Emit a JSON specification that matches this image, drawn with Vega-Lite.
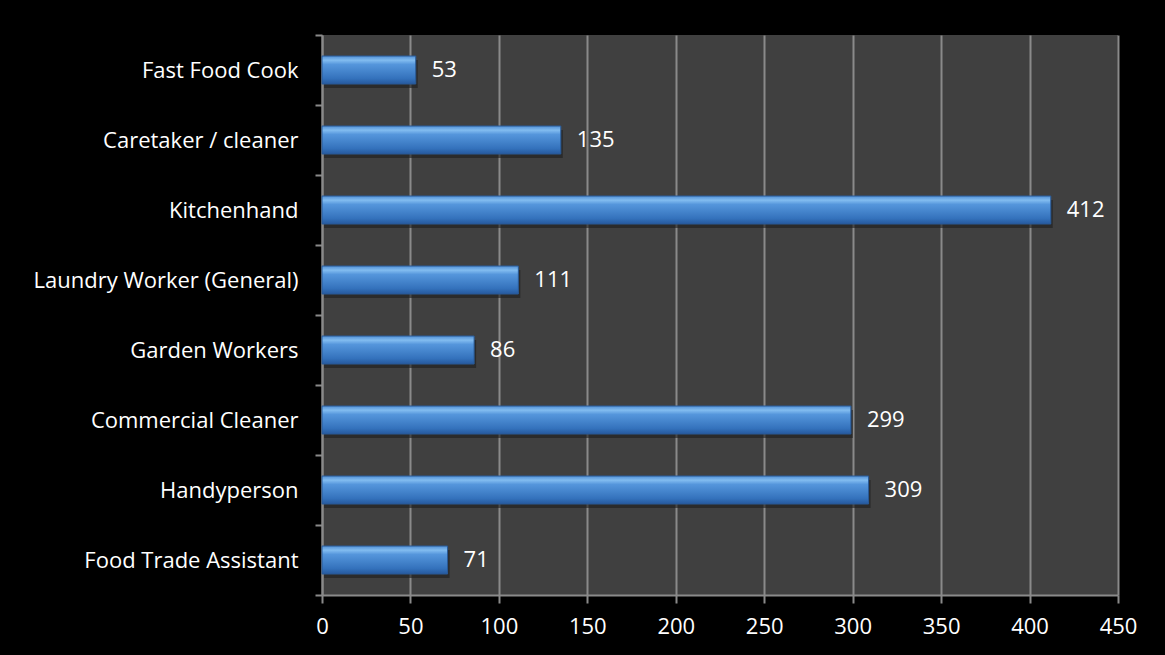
{
  "$schema": "https://vega.github.io/schema/vega-lite/v6.json",
  "width": 796,
  "height": 560,
  "autosize": {"type": "none"},
  "padding": {"left": 322, "top": 35, "right": 47, "bottom": 60},
  "background": "#000000",
  "config": {
    "view": {"fill": "#404040", "stroke": null},
    "font": "Open Sans"
  },
  "data": {
    "values": [
      {"job": "Fast Food Cook", "count": 53},
      {"job": "Caretaker / cleaner", "count": 135},
      {"job": "Kitchenhand", "count": 412},
      {"job": "Laundry Worker (General)", "count": 111},
      {"job": "Garden Workers", "count": 86},
      {"job": "Commercial Cleaner", "count": 299},
      {"job": "Handyperson", "count": 309},
      {"job": "Food Trade Assistant", "count": 71}
    ]
  },
  "encoding": {
    "y": {
      "field": "job",
      "type": "nominal",
      "sort": null,
      "scale": {"paddingInner": 0, "paddingOuter": 0},
      "axis": {
        "title": null,
        "labelColor": "#ffffff",
        "labelFontSize": 22,
        "labelLimit": 0,
        "labelPadding": 17,
        "tickSize": 7,
        "tickColor": "#8a8a8a",
        "tickWidth": 2,
        "tickBand": "extent",
        "domainColor": "#8a8a8a",
        "domainWidth": 2,
        "grid": false
      }
    },
    "x": {
      "field": "count",
      "type": "quantitative",
      "scale": {"domain": [0, 450], "nice": false},
      "axis": {
        "title": null,
        "values": [0, 50, 100, 150, 200, 250, 300, 350, 400, 450],
        "labelColor": "#ffffff",
        "labelFontSize": 22,
        "labelPadding": 13,
        "labelFlush": false,
        "labelOverlap": false,
        "tickSize": 8,
        "tickColor": "#8a8a8a",
        "tickWidth": 2,
        "domainColor": "#8a8a8a",
        "domainWidth": 2,
        "grid": true,
        "gridColor": "#8a8a8a",
        "gridWidth": 2,
        "gridOpacity": 1
      }
    }
  },
  "layer": [
    {
      "mark": {
        "type": "bar",
        "height": {"band": 0.4},
        "yOffset": 4,
        "xOffset": 2,
        "fill": "#1e1e1e",
        "opacity": 0.6
      }
    },
    {
      "mark": {
        "type": "bar",
        "height": {"band": 0.4},
        "stroke": "#2a5a96",
        "strokeWidth": 1,
        "fill": {
          "gradient": "linear",
          "x1": 0, "y1": 0, "x2": 0, "y2": 1,
          "stops": [
            {"offset": 0, "color": "#5290d6"},
            {"offset": 0.15, "color": "#82bcf0"},
            {"offset": 0.3, "color": "#5596dc"},
            {"offset": 0.8, "color": "#3472bc"},
            {"offset": 1, "color": "#26599e"}
          ]
        }
      }
    },
    {
      "mark": {
        "type": "text",
        "align": "left",
        "baseline": "middle",
        "dx": 16,
        "color": "#ffffff",
        "fontSize": 22
      },
      "encoding": {
        "text": {"field": "count", "type": "quantitative"}
      }
    }
  ]
}
